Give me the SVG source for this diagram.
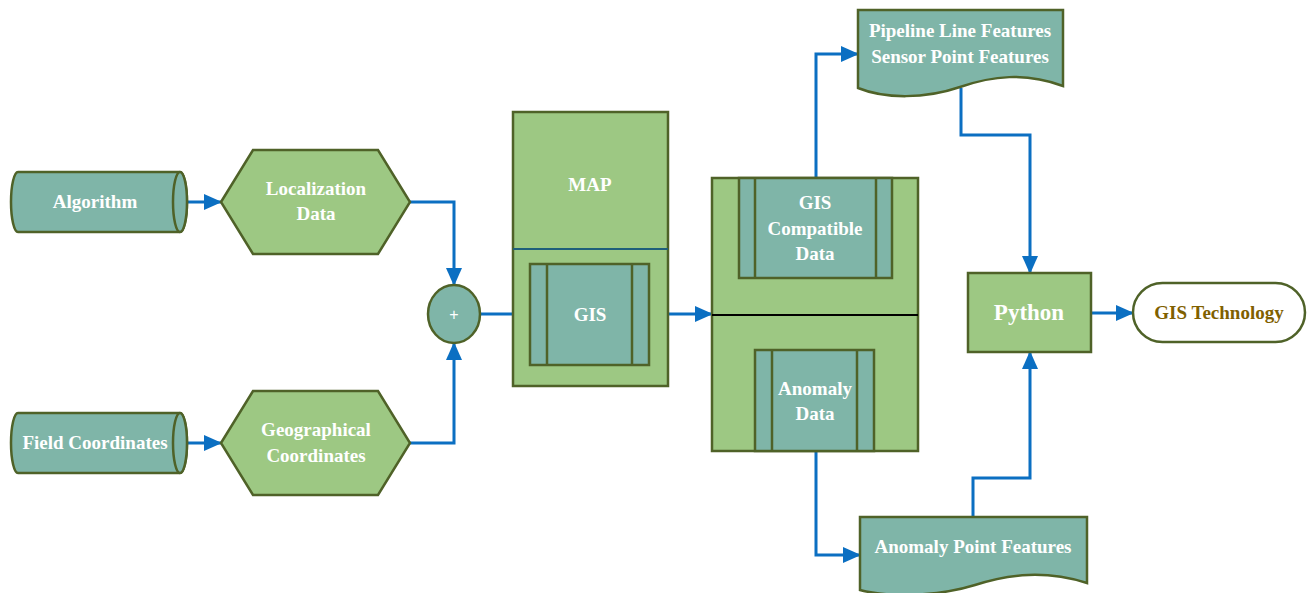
<svg xmlns="http://www.w3.org/2000/svg" width="1308" height="593" viewBox="0 0 1308 593">
<style>
.teal{fill:#7fb5a8;stroke:#4f6228;stroke-width:2.5}
.green{fill:#9dc883;stroke:#4f6228;stroke-width:2.5}
.t{font-family:"Liberation Serif",serif;font-weight:bold;fill:#ffffff;font-size:19px;text-anchor:middle}
.c{fill:none;stroke:#0b6fc2;stroke-width:3}
</style>
<defs>
<marker id="a" markerWidth="18" markerHeight="16" refX="17" refY="8" orient="auto" markerUnits="userSpaceOnUse">
<path d="M0,0 L18,8 L0,16 Z" fill="#0b6fc2"/>
</marker>
</defs>
<rect width="1308" height="593" fill="#ffffff"/>
<g id="connectors">
<path class="c" d="M180,202 H221" marker-end="url(#a)"/>
<path class="c" d="M180,443 H221" marker-end="url(#a)"/>
<path class="c" d="M410,202 H454 V285" marker-end="url(#a)"/>
<path class="c" d="M410,443 H454 V343" marker-end="url(#a)"/>
<path class="c" d="M480,314 H530" marker-end="url(#a)"/>
<path class="c" d="M649,314 H712" marker-end="url(#a)"/>
<path class="c" d="M816,178 V54 H858" marker-end="url(#a)"/>
<path class="c" d="M816,451 V555 H860" marker-end="url(#a)"/>
<path class="c" d="M961,88 V135 H1030 V273" marker-end="url(#a)"/>
<path class="c" d="M973,517 V478 H1030 V352" marker-end="url(#a)"/>
<path class="c" d="M1091,313 H1133" marker-end="url(#a)"/>
</g>
<g id="algorithm">
<path class="teal" d="M18,172 H180 A7,30 0 0 1 180,232 H18 A7,30 0 0 1 18,172 Z"/>
<ellipse class="teal" cx="180" cy="202" rx="7" ry="30"/>
<text class="t" x="95" y="208">Algorithm</text>
</g>
<g id="field-coordinates">
<path class="teal" d="M18,413 H180 A7,30 0 0 1 180,473 H18 A7,30 0 0 1 18,413 Z"/>
<ellipse class="teal" cx="180" cy="443" rx="7" ry="30"/>
<text class="t" x="95" y="449">Field Coordinates</text>
</g>
<g id="localization-data">
<polygon class="green" points="221,202 253,150 378,150 410,202 378,254 253,254"/>
<text class="t" x="316" y="195">Localization</text>
<text class="t" x="316" y="220">Data</text>
</g>
<g id="geographical-coordinates">
<polygon class="green" points="221,443 253,391 378,391 410,443 378,495 253,495"/>
<text class="t" x="316" y="436">Geographical</text>
<text class="t" x="316" y="462">Coordinates</text>
</g>
<g id="plus">
<ellipse class="teal" cx="454" cy="314" rx="26" ry="29"/>
<text x="454" y="320" style="font-family:'Liberation Sans',sans-serif;font-size:16px;fill:#ffffff;text-anchor:middle">+</text>
</g>
<g id="map">
<rect class="green" x="513" y="112" width="155" height="274"/>
<line x1="513" y1="249" x2="668" y2="249" stroke="#1f5f7a" stroke-width="2"/>
<text class="t" x="590" y="191">MAP</text>
</g>
<g id="gis">
<rect class="teal" x="530" y="264" width="119" height="101"/>
<line x1="547" y1="264" x2="547" y2="365" stroke="#4f6228" stroke-width="2.5"/>
<line x1="632" y1="264" x2="632" y2="365" stroke="#4f6228" stroke-width="2.5"/>
<text class="t" x="590" y="321">GIS</text>
</g>
<g id="data-box">
<rect class="green" x="712" y="178" width="206" height="273"/>
<line x1="712" y1="315" x2="918" y2="315" stroke="#000000" stroke-width="2"/>
</g>
<g id="gis-compatible-data">
<rect class="teal" x="739" y="178" width="153" height="100"/>
<line x1="755" y1="178" x2="755" y2="278" stroke="#4f6228" stroke-width="2.5"/>
<line x1="876" y1="178" x2="876" y2="278" stroke="#4f6228" stroke-width="2.5"/>
<text class="t" x="815" y="209">GIS</text>
<text class="t" x="815" y="235">Compatible</text>
<text class="t" x="815" y="260">Data</text>
</g>
<g id="anomaly-data">
<rect class="teal" x="755" y="350" width="119" height="101"/>
<line x1="772" y1="350" x2="772" y2="451" stroke="#4f6228" stroke-width="2.5"/>
<line x1="857" y1="350" x2="857" y2="451" stroke="#4f6228" stroke-width="2.5"/>
<text class="t" x="815" y="395">Anomaly</text>
<text class="t" x="815" y="420">Data</text>
</g>
<g id="pipeline-features">
<path class="teal" d="M858,10 H1063 V86 C1025,72 992,76 960,87 C925,99 885,99 858,88 Z"/>
<text class="t" x="960" y="37">Pipeline Line Features</text>
<text class="t" x="960" y="63">Sensor Point Features</text>
</g>
<g id="anomaly-point-features">
<path class="teal" d="M860,517 H1087 V583 C1045,570 1010,574 975,585 C940,596 890,598 860,590 Z"/>
<text class="t" x="973" y="553">Anomaly Point Features</text>
</g>
<g id="python">
<rect class="green" x="968" y="273" width="123" height="79"/>
<text class="t" x="1029" y="320" style="font-size:23px">Python</text>
</g>
<g id="gis-technology">
<rect x="1133" y="283" width="172" height="59" rx="29.5" fill="#ffffff" stroke="#4f6228" stroke-width="2.5"/>
<text class="t" x="1219" y="319" style="fill:#7f6000">GIS Technology</text>
</g>
</svg>
